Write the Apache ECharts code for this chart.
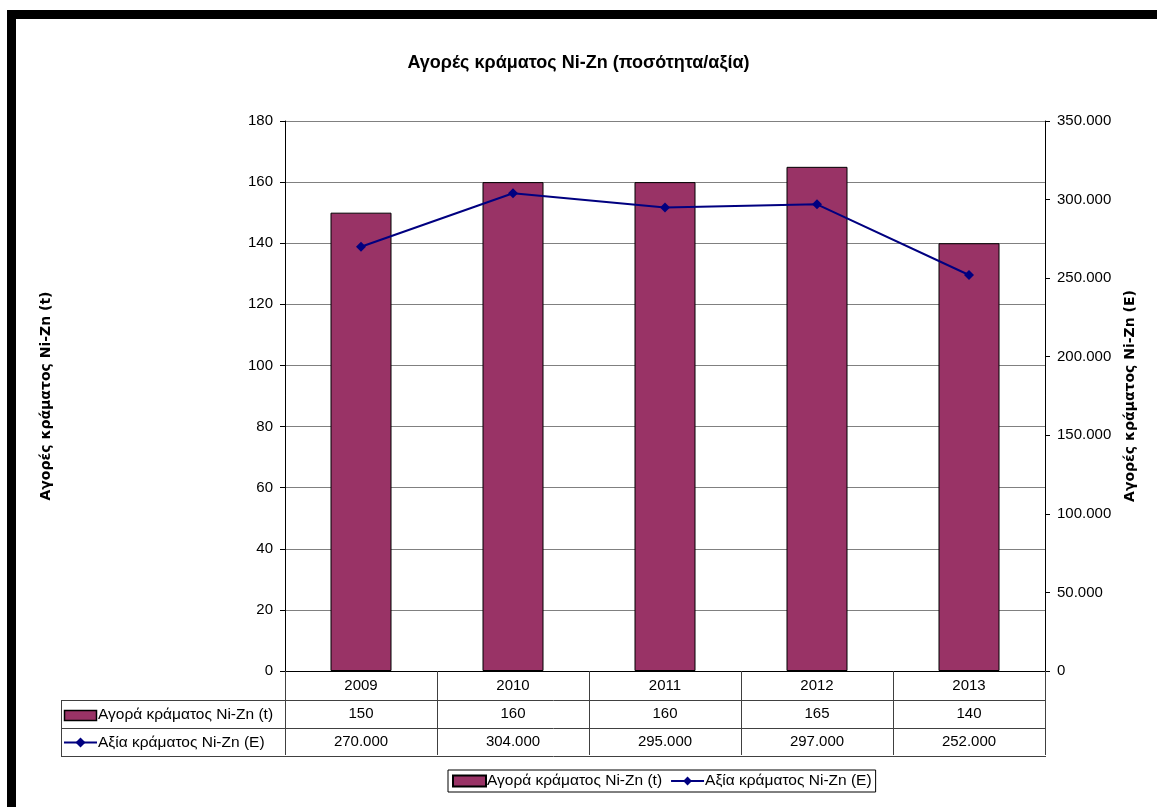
<!DOCTYPE html>
<html>
<head>
<meta charset="utf-8">
<script src="https://cdn.jsdelivr.net/npm/echarts@6/dist/echarts.min.js"></script>
<style>
    html, body { margin: 0; padding: 0; background: #fff; }
    #chart { position: absolute; left: 0; top: 0; width: 1157px; height: 807px; }
    #frame {
        position: absolute; left: 7px; top: 10px; width: 1150px; height: 797px;
        box-sizing: border-box; border-top: 9px solid #000; border-left: 9px solid #000;
        pointer-events: none;
    }
</style>
</head>
<body>
<div id="chart"></div>
<div id="frame"></div>
<script>
    var years = ['2009', '2010', '2011', '2012', '2013'];
    var quantity = [150, 160, 160, 165, 140];
    var value = [270000, 304000, 295000, 297000, 252000];
    var leftTicks = [0, 180, 20];
    var rightTicks = [0, 350000, 50000];

    var qtyName = 'Αγορά κράματος Ni-Zn (t)';
    var valName = 'Αξία κράματος Ni-Zn (E)';

    function fmt(v) {
        return String(v).replace(/\B(?=(\d{3})+(?!\d))/g, '.');
    }

    var font = 'Liberation Sans, Arial, sans-serif';
    var tableLine = '#404040';
    var fs = 15;

    var myChart = echarts.init(document.getElementById('chart'));
    var option;

    // plot area is 285..1045 x 121..671, table rows under it
    option = {
        animation: false,
        textStyle: { fontFamily: font, color: '#000' },
        title: {
            text: 'Αγορές κράματος Ni-Zn (ποσότητα/αξία)',
            left: 'center',
            top: 49,
            textStyle: { fontFamily: font, fontSize: 18, fontWeight: 'bold', color: '#000' }
        },
        legend: {
            left: 448,
            top: 770,
            padding: [3, 4, 3, 4],
            borderColor: '#000',
            borderWidth: 1,
            itemWidth: 33,
            itemHeight: 11,
            itemGap: 8,
            textStyle: { fontFamily: font, fontSize: 15.5, color: '#000', padding: [0, 0, 0, -4] },
            data: [{ name: qtyName, icon: 'rect' }, { name: valName }]
        },
        grid: { left: 285, top: 121, width: 760, height: 550, containLabel: false },
        xAxis: [
            {
                type: 'category',
                data: years,
                axisLine: { lineStyle: { color: '#000', width: 1 } },
                axisTick: { show: true, inside: false, length: 84, lineStyle: { color: tableLine } },
                axisLabel: { color: '#000', fontSize: fs, margin: 7 }
            },
            {
                type: 'category',
                data: years,
                position: 'bottom',
                offset: 28,
                axisLine: { show: false },
                axisTick: { show: false },
                axisLabel: {
                    color: '#000', fontSize: fs, margin: 7,
                    formatter: function (v, i) { return String(quantity[i]); }
                }
            },
            {
                type: 'category',
                data: years,
                position: 'bottom',
                offset: 56,
                axisLine: { show: false },
                axisTick: { show: false },
                axisLabel: {
                    color: '#000', fontSize: fs, margin: 7,
                    formatter: function (v, i) { return fmt(value[i]); }
                }
            }
        ],
        yAxis: [
            {
                type: 'value',
                min: leftTicks[0],
                max: leftTicks[1],
                interval: leftTicks[2],
                name: 'Αγορές κράματος Ni-Zn (t)',
                nameLocation: 'middle',
                nameRotate: 90,
                nameGap: 232,
                nameTextStyle: { fontFamily: 'DejaVu Sans', fontWeight: 'bold', fontSize: 14, color: '#000' },
                axisLine: { show: true, lineStyle: { color: '#000' } },
                axisTick: { show: true, length: 5, lineStyle: { color: '#000' } },
                axisLabel: { color: '#000', fontSize: fs, margin: 12 },
                splitLine: { show: true, lineStyle: { color: '#808080', width: 1 } }
            },
            {
                type: 'value',
                min: rightTicks[0],
                max: rightTicks[1],
                interval: rightTicks[2],
                position: 'right',
                name: 'Αγορές κράματος Ni-Zn (E)',
                nameLocation: 'middle',
                nameRotate: 90,
                nameGap: 78,
                nameTextStyle: { fontFamily: 'DejaVu Sans', fontWeight: 'bold', fontSize: 14, color: '#000' },
                axisLine: { show: true, lineStyle: { color: '#000' } },
                axisTick: { show: true, length: 5, lineStyle: { color: '#000' } },
                axisLabel: { color: '#000', fontSize: fs, margin: 12, formatter: function (v) { return fmt(v); } },
                splitLine: { show: false }
            }
        ],
        series: [
            {
                name: qtyName,
                type: 'bar',
                xAxisIndex: 0,
                yAxisIndex: 0,
                barWidth: 61,
                itemStyle: { color: '#993366', borderColor: '#000', borderWidth: 1 },
                data: quantity
            },
            {
                name: valName,
                type: 'line',
                xAxisIndex: 0,
                yAxisIndex: 1,
                symbol: 'diamond',
                symbolSize: 10,
                lineStyle: { color: '#000080', width: 2 },
                itemStyle: { color: '#000080' },
                data: value
            }
        ],
        // data table frame and its legend keys
        graphic: [
            { type: 'line', shape: { x1: 61, y1: 700.5, x2: 1046, y2: 700.5 }, style: { stroke: tableLine, lineWidth: 1 } },
            { type: 'line', shape: { x1: 61, y1: 728.5, x2: 1046, y2: 728.5 }, style: { stroke: tableLine, lineWidth: 1 } },
            { type: 'line', shape: { x1: 61, y1: 756.5, x2: 1046, y2: 756.5 }, style: { stroke: tableLine, lineWidth: 1 } },
            { type: 'line', shape: { x1: 61.5, y1: 700, x2: 61.5, y2: 757 }, style: { stroke: tableLine, lineWidth: 1 } },
            { type: 'rect', shape: { x: 64.5, y: 710.5, width: 32, height: 10 }, style: { fill: '#993366', stroke: '#000', lineWidth: 1.5 } },
            { type: 'text', x: 98, y: 715, style: { text: qtyName, font: '15.5px ' + font, fill: '#000', textVerticalAlign: 'middle' } },
            { type: 'line', shape: { x1: 64, y1: 742.5, x2: 97, y2: 742.5 }, style: { stroke: '#000080', lineWidth: 2 } },
            { type: 'polygon', shape: { points: [[80.5, 737.5], [85.5, 742.5], [80.5, 747.5], [75.5, 742.5]] }, style: { fill: '#000080' } },
            { type: 'text', x: 98, y: 743, style: { text: valName, font: '15.5px ' + font, fill: '#000', textVerticalAlign: 'middle' } }
        ]
    };

    option && myChart.setOption(option);
</script>
</body>
</html>
